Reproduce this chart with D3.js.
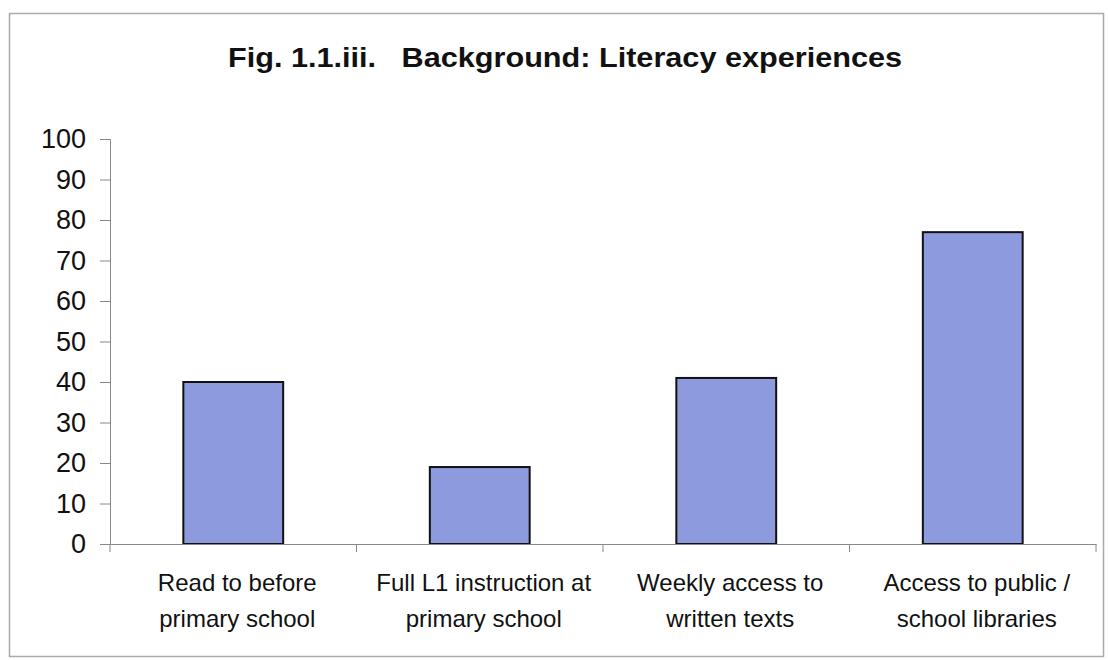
<!DOCTYPE html>
<html><head><meta charset="utf-8">
<script src="https://cdn.jsdelivr.net/npm/d3@7"></script>
<style>body{margin:0;background:#fff}svg{display:block}text{font-family:"Liberation Sans",Arial,sans-serif;fill:#111}</style>
</head><body>
<svg id="c" width="1108" height="660"></svg>
<script>
const title = "Fig. 1.1.iii.   Background: Literacy experiences";
const categories = ["Read to before|primary school","Full L1 instruction at|primary school","Weekly access to|written texts","Access to public /|school libraries"];
const values = [40, 19, 41, 77];
const yTicks = [0,10,20,30,40,50,60,70,80,90,100];

const svg = d3.select("#c");
const L = 110, R = 1096, T = 139, B = 544;

// frame
svg.append("rect").attr("x",9.5).attr("y",13.5).attr("width",1094).attr("height",643)
  .attr("fill","#fff").attr("stroke","#aaa").attr("stroke-width",1.5);

svg.append("text").attr("x",228).attr("y",67).attr("text-anchor","start")
  .attr("font-size",28).attr("font-weight","bold").attr("xml:space","preserve")
  .attr("textLength",674).attr("lengthAdjust","spacingAndGlyphs").text(title);

const x = d3.scaleBand().domain(categories).range([L,R]).padding(0);
const y = d3.scaleLinear().domain([0,100]).range([B,T]);

// y axis
const ya = svg.append("g").attr("transform",`translate(${L},0)`)
  .call(d3.axisLeft(y).tickValues(yTicks).tickSize(10).tickPadding(14).tickFormat(d3.format("d")));
ya.select(".domain").attr("stroke","#888");
ya.selectAll(".tick line").attr("stroke","#888");
ya.selectAll(".tick text").attr("font-size",27).attr("fill","#111").attr("font-family","Liberation Sans, Arial, sans-serif");

// bars
const bw = x.bandwidth()*0.405;
svg.append("g").selectAll("rect").data(values).join("rect")
  .attr("x",(d,i)=>x(categories[i])+x.bandwidth()/2-bw/2)
  .attr("y",d=>y(d)).attr("width",bw).attr("height",d=>y(0)-y(d))
  .attr("fill","#8d9ade").attr("stroke","#111").attr("stroke-width",2);

// x axis
const xa = svg.append("g").attr("transform",`translate(0,${B})`)
  .call(d3.axisBottom(x).tickSize(0).tickFormat(""));
xa.select(".domain").attr("stroke","#888");
const bounds = categories.map(c=>x(c)).concat([R]);
xa.selectAll(".bound").data(bounds).join("line").attr("class","bound")
  .attr("x1",d=>d).attr("x2",d=>d).attr("y1",0).attr("y2",8).attr("stroke","#888");

// category labels
categories.forEach((c,i)=>{
  const lines = c.split("|");
  const cx = x(c)+x.bandwidth()/2+4;
  const t = svg.append("text").attr("text-anchor","middle").attr("font-size",24).attr("x",cx);
  lines.forEach((ln,j)=>t.append("tspan").attr("x",cx).attr("y",591+j*36).text(ln));
});
</script>
</body></html>
